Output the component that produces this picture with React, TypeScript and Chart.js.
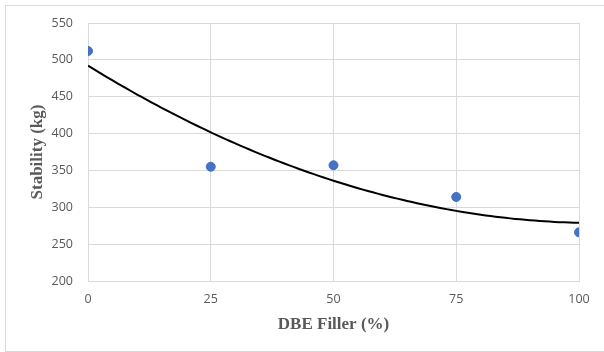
import React, { useEffect, useRef } from "react";
import { Chart, registerables } from "chart.js";

Chart.register(...registerables);

const fillerPct = [0, 25, 50, 75, 100];
const stability = [512, 355, 357, 314, 266];
const xTicks = [0, 25, 50, 75, 100];
const yTicks = [200, 250, 300, 350, 400, 450, 500, 550];

// Excel-style 2nd order polynomial trendline (least squares fit of the data)
function polyFit2(xs: number[], ys: number[]) {
  const n = xs.length;
  let sx = 0, sx2 = 0, sx3 = 0, sx4 = 0, sy = 0, sxy = 0, sx2y = 0;
  for (let i = 0; i < n; i++) {
    const x = xs[i], y = ys[i];
    sx += x; sx2 += x * x; sx3 += x ** 3; sx4 += x ** 4;
    sy += y; sxy += x * y; sx2y += x * x * y;
  }
  const M = [
    [n, sx, sx2, sy],
    [sx, sx2, sx3, sxy],
    [sx2, sx3, sx4, sx2y],
  ];
  for (let c = 0; c < 3; c++) {
    for (let r = c + 1; r < 3; r++) {
      const f = M[r][c] / M[c][c];
      for (let k = c; k < 4; k++) M[r][k] -= f * M[c][k];
    }
  }
  const s = [0, 0, 0];
  for (let r = 2; r >= 0; r--) {
    let v = M[r][3];
    for (let k = r + 1; k < 3; k++) v -= M[r][k] * s[k];
    s[r] = v / M[r][r];
  }
  return s; // a0, a1, a2
}

export default function App() {
  const ref = useRef<HTMLCanvasElement | null>(null);
  useEffect(() => {
    if (!ref.current) return;
    const [a0, a1, a2] = polyFit2(fillerPct, stability);
    const trend: { x: number; y: number }[] = [];
    for (let x = 0; x <= 100; x += 1) trend.push({ x, y: a0 + a1 * x + a2 * x * x });
    const tickFont = { family: "'Open Sans', 'Liberation Sans', sans-serif", size: 12.5 };
    const titleFont = { family: "'Liberation Serif', 'Times New Roman', serif", size: 17, weight: "bold" as const };
    const chart = new Chart(ref.current, {
      type: "scatter",
      data: {
        datasets: [
          {
            type: "line",
            data: trend,
            borderColor: "#000000",
            borderWidth: 2,
            pointRadius: 0,
            fill: false,
            tension: 0,
            order: 2,
          },
          {
            type: "scatter",
            data: fillerPct.map((x, i) => ({ x, y: stability[i] })),
            backgroundColor: "#4472C4",
            borderColor: "#4472C4",
            pointRadius: 4.5,
            order: 1,
          },
        ],
      },
      options: {
        animation: false,
        responsive: false,
        maintainAspectRatio: false,
        layout: { padding: { left: 0, right: 25, top: 17, bottom: 0 } },
        plugins: { legend: { display: false }, tooltip: { enabled: false } },
        scales: {
          x: {
            type: "linear",
            min: 0,
            max: 100,
            afterBuildTicks: (axis: any) => {
              axis.ticks = xTicks.map((v) => ({ value: v }));
            },
            afterFit: (axis: any) => {
              axis.height = 69;
              axis.paddingLeft = 0;
              axis.paddingRight = 0;
            },
            ticks: { color: "#595959", font: tickFont, padding: 11 },
            grid: { color: "#d9d9d9", drawTicks: false, lineWidth: 1 },
            border: { color: "#d9d9d9" },
            title: { display: true, text: "DBE Filler (%)", color: "#595959", font: titleFont, padding: { top: 0, bottom: 15 } },
          },
          y: {
            type: "linear",
            min: 200,
            max: 550,
            afterBuildTicks: (axis: any) => {
              axis.ticks = yTicks.map((v) => ({ value: v }));
            },
            afterFit: (axis: any) => {
              axis.width = 82;
              axis.paddingTop = 0;
              axis.paddingBottom = 0;
            },
            ticks: { color: "#595959", font: tickFont, padding: 15 },
            grid: { color: "#d9d9d9", drawTicks: false, lineWidth: 1 },
            border: { color: "#d9d9d9" },
            title: { display: true, text: "Stability (kg)", color: "#595959", font: titleFont, padding: { top: 21, bottom: 0 } },
          },
        },
      },
    });
    return () => chart.destroy();
  }, []);
  return (
    <div
      style={{
        position: "absolute",
        left: 5,
        top: 5,
        width: 599,
        height: 345,
        borderLeft: "1px solid #d9d9d9",
        borderTop: "1px solid #d9d9d9",
        borderBottom: "1px solid #d9d9d9",
        background: "#fff",
      }}
    >
      <canvas ref={ref} width={598} height={344} style={{ display: "block" }} />
    </div>
  );
}
